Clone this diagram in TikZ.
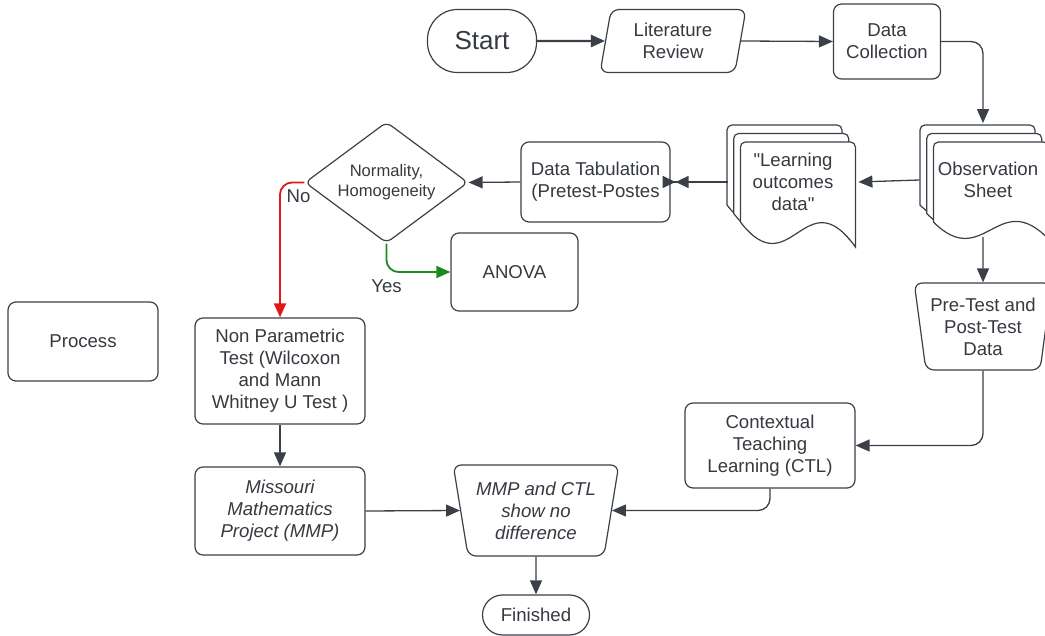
\documentclass[tikz,border=0pt]{standalone}
\usepackage{fontspec}
\setmainfont{Liberation Sans}[Ligatures=TeXOff]
\usetikzlibrary{arrows.meta,shapes.geometric,positioning}
\definecolor{linegray}{HTML}{3B4048}
\definecolor{textgray}{HTML}{353A40}
\definecolor{noRed}{HTML}{E3161B}
\definecolor{yesGreen}{HTML}{1E8A1E}

\begin{document}
\begin{tikzpicture}[x=0.5pt,y=-0.5pt,
    font=\fontsize{9.3}{11}\selectfont, text=textgray,
    box/.style={draw=linegray, line width=0.6pt, rounded corners=4pt, fill=white, align=center, inner sep=2pt},
    page/.style={draw=linegray, line width=0.6pt, fill=white},
    flow/.style={draw=linegray, line width=0.65pt, -{Triangle[length=7pt,width=6pt]}},
    italic/.style={font=\fontsize{9.3}{11}\selectfont\itshape}]
                \useasboundingbox (0,0) rectangle (1045,636);
                % top row
                \node[box, rounded corners=15pt, minimum width=54.5pt, minimum height=31.5pt, font=\fontsize{13}{15}\selectfont] (start) at (482,41) {Start};
                \node[box, trapezium, trapezium left angle=80, trapezium right angle=100, trapezium stretches=true, minimum width=73pt, minimum height=31.5pt] (lit_rev) at (673,41) {Literature\\Review};
                \node[box, minimum width=53.5pt, minimum height=37.5pt] (data_col) at (887,41.5) {Data\\Collection};
                % stacked documents
                \foreach \i in {0,1,2} {
                    \begin{scope}[shift={({920+6.7*\i},{125+8.5*\i})}]
                        \draw[page] (0,80) [rounded corners=2.5pt] -- (0,0) -- (115,0) [sharp corners] -- (115,97) .. controls (65,45) and (50,130) .. (0,80) -- cycle;
                    \end{scope}
                }
                \foreach \i in {0,1,2} {
                    \begin{scope}[shift={({727+6.7*\i},{125+8.5*\i})}]
                        \draw[page] (0,80) [rounded corners=2.5pt] -- (0,0) -- (115,0) [sharp corners] -- (115,105) .. controls (65,35) and (50,145) .. (0,80) -- cycle;
                    \end{scope}
                }
                \node[minimum width=68pt, minimum height=56.5pt, inner sep=0pt, align=center] (obs_sheet) at (988,180) {Observation\\Sheet};
                \node[minimum width=65pt, minimum height=56pt, inner sep=0pt, align=center] (learn_out) at (793,182) {"Learning\\outcomes\\data"};
                % middle
                \node[box, minimum width=74.5pt, minimum height=40pt] (data_tab) at (595.5,182) {Data Tabulation\\(Pretest-Postes};
                \node[draw=linegray, line width=0.6pt, diamond, aspect=1.35, minimum width=81.5pt, minimum height=60.5pt, inner sep=0pt, rounded corners=3pt, align=center, font=\fontsize{8.3}{9.8}\selectfont] (norm) at (386.5,182.5) {Normality,\\Homogeneity};
                \node[box, minimum width=63.5pt, minimum height=39pt] (anova) at (514.5,272) {ANOVA};
                \node[box, minimum width=75pt, minimum height=39.5pt] (process) at (83,341.5) {Process};
                \node[box, trapezium, trapezium left angle=100, trapezium right angle=100, trapezium stretches=true, minimum width=69pt, minimum height=43.5pt] (pre_post) at (983,326.5) {Pre-Test and\\Post-Test\\Data};
                % bottom
                \node[box, minimum width=85pt, minimum height=53pt] (non_par) at (280,371) {Non Parametric\\Test (Wilcoxon\\and Mann\\Whitney U Test )};
                \node[box, italic, minimum width=85pt, minimum height=44pt] (mmp) at (280,511) {Missouri\\Mathematics\\Project (MMP)};
                \node[box, minimum width=85pt, minimum height=42.5pt] (ctl) at (770,445.5) {Contextual\\Teaching\\Learning (CTL)};
                \node[box, italic, trapezium, trapezium left angle=102, trapezium right angle=102, trapezium stretches=true, minimum width=83pt, minimum height=45.5pt] (result) at (536,510.5) {MMP and CTL\\show no\\difference};
                \node[box, rounded corners=10pt, minimum width=53.5pt, minimum height=20pt] (finish) at (536,615) {Finished};
                % connectors
                \draw[flow, line width=1.2pt] (start.east) -- (lit_rev.west);
                \draw[flow] (lit_rev.east) -- (data_col.west);
                \draw[flow, rounded corners=6pt] (data_col.east) -| ([xshift=-2.5pt]obs_sheet.north);
                \draw[flow] (obs_sheet.west) -- (learn_out.east);
                \draw[flow, shorten >=-4pt, -{Triangle[length=6.5pt,width=6pt,sep=0pt] Triangle[reversed,length=6.5pt,width=6pt]}] (learn_out.west) -- (data_tab.east);
                \draw[flow] (data_tab.west) -- (norm.east);
                \draw[flow, color=noRed, line width=0.9pt, rounded corners=6pt] (norm.west) -| node[pos=0.12, below, text=textgray] (no_lbl) {No} (non_par.north);
                \draw[flow, color=yesGreen, line width=0.9pt, rounded corners=6pt] (norm.south) |- node[pos=0.5, below, text=textgray] (yes_lbl) {Yes} (anova.west);
                \draw[flow] ([xshift=-2.5pt]obs_sheet.south) -- (pre_post.north);
                \draw[flow, rounded corners=6pt] (pre_post.south) |- (ctl.east);
                \draw[flow, rounded corners=6pt] (ctl.south) |- (result.east);
                \draw[flow] (mmp.east) -- (result.west);
                \draw[flow] (non_par.south) -- (mmp.north);
                \draw[flow] (result.south) -- (finish.north);
\end{tikzpicture}
\end{document}
